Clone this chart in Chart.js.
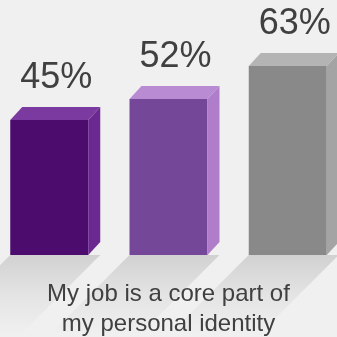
<!DOCTYPE html>
<html><head><meta charset="utf-8">
<script src="https://cdn.jsdelivr.net/npm/chart.js@4"></script>
<style>html,body{margin:0;padding:0;background:#f0f0f0;overflow:hidden}#wrap{width:337px;height:337px;position:relative}</style>
</head><body><div id="wrap"><canvas id="c"></canvas></div>
<script>
const categories = [["My job is a core part of", "my personal identity"]];
const seriesNames = ["Group 1", "Group 2", "Group 3"];
const seriesValues = [[45], [52], [63]];
const frontColors = ["#4b0c6e", "#744799", "#898989"];
const sideColors = ["#6a2890", "#b07dca", "#a4a4a4"];
const topColors = ["#7b3a9f", "#b98bd2", "#b4b4b4"];

const DX = 12, DY = 13;

const bar3d = {
  id: 'bar3d',
  beforeDraw(chart) {
    const ctx = chart.ctx;
    ctx.save();
    ctx.fillStyle = '#f0f0f0';
    ctx.fillRect(0, 0, chart.width, chart.height);
    chart.data.datasets.forEach((ds, i) => {
      const meta = chart.getDatasetMeta(i);
      meta.data.forEach(bar => {
        const p = bar.getProps(['x', 'y', 'base', 'width'], true);
        const L = p.x - p.width / 2, R = p.x + p.width / 2 + DX;
        const s = 80;
        const g = ctx.createLinearGradient(0, p.base, 0, p.base + s);
        g.addColorStop(0, 'rgba(0,0,0,0.13)');
        g.addColorStop(0.5, 'rgba(0,0,0,0.05)');
        g.addColorStop(1, 'rgba(0,0,0,0)');
        ctx.beginPath();
        ctx.moveTo(L, p.base);
        ctx.lineTo(R, p.base);
        ctx.lineTo(R - s, p.base + s);
        ctx.lineTo(L - s, p.base + s);
        ctx.closePath();
        ctx.fillStyle = g;
        ctx.fill();
      });
    });
    ctx.restore();
  },
  afterDatasetsDraw(chart) {
    const ctx = chart.ctx;
    ctx.save();
    chart.data.datasets.forEach((ds, i) => {
      const meta = chart.getDatasetMeta(i);
      meta.data.forEach((bar, j) => {
        const p = bar.getProps(['x', 'y', 'base', 'width'], true);
        const L = p.x - p.width / 2, R = p.x + p.width / 2;
        ctx.beginPath();
        ctx.moveTo(R, p.y);
        ctx.lineTo(R + DX, p.y - DY);
        ctx.lineTo(R + DX, p.base - DY);
        ctx.lineTo(R, p.base);
        ctx.closePath();
        ctx.fillStyle = sideColors[i];
        ctx.fill();
        ctx.beginPath();
        ctx.moveTo(L, p.y);
        ctx.lineTo(L + DX, p.y - DY);
        ctx.lineTo(R + DX, p.y - DY);
        ctx.lineTo(R, p.y);
        ctx.closePath();
        ctx.fillStyle = topColors[i];
        ctx.fill();
        ctx.fillStyle = '#404040';
        ctx.font = '36px "Liberation Sans", Arial, sans-serif';
        ctx.textAlign = 'center';
        ctx.textBaseline = 'alphabetic';
        ctx.fillText(ds.data[j] + '%', p.x + 7, p.y - 32);
      });
    });
    ctx.restore();
  }
};

new Chart(document.getElementById('c'), {
  type: 'bar',
  data: {
    labels: categories,
    datasets: seriesNames.map((n, i) => ({
      label: n,
      data: seriesValues[i],
      backgroundColor: frontColors[i],
      borderWidth: 0
    }))
  },
  options: {
    responsive: true,
    maintainAspectRatio: false,
    animation: false,
    categoryPercentage: 1.0616,
    barPercentage: 0.654,
    layout: { padding: 0 },
    plugins: { legend: { display: false }, tooltip: { enabled: false } },
    scales: {
      x: {
        grid: { display: false, drawTicks: false },
        border: { display: false },
        afterFit: s => { s.height = 82; },
        ticks: {
          padding: 25,
          maxRotation: 0,
          autoSkip: false,
          color: '#404040',
          font: { family: '"Liberation Sans", Arial, sans-serif', size: 24, lineHeight: 1.22 }
        }
      },
      y: { display: false, min: 0, max: 85 }
    }
  },
  plugins: [bar3d]
});
</script>
</body></html>
